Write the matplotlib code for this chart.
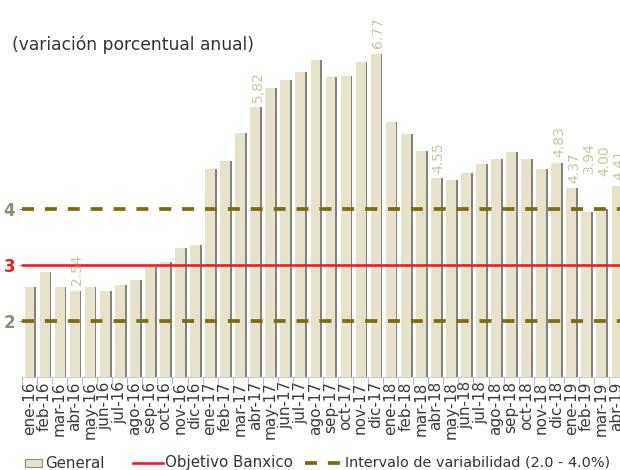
import matplotlib
matplotlib.use("Agg")
import matplotlib.pyplot as plt
from matplotlib.lines import Line2D
from matplotlib.patches import Rectangle
import numpy as np

months = ["ene", "feb", "mar", "abr", "may", "jun", "jul", "ago", "sep", "oct", "nov", "dic"]
years = ["16", "17", "18", "19"]
categories = [f"{m}-{y}" for y in years for m in months][:40]

general = [2.61, 2.87, 2.60, 2.54, 2.60, 2.54, 2.65, 2.73, 2.97, 3.06, 3.31, 3.36,
           4.72, 4.86, 5.35, 5.82, 6.16, 6.31, 6.44, 6.66, 6.35, 6.37, 6.63, 6.77,
           5.55, 5.34, 5.04, 4.55, 4.51, 4.65, 4.81, 4.90, 5.02, 4.90, 4.72, 4.83,
           4.37, 3.94, 4.00, 4.41]

label_idx = [3, 15, 23, 27, 35, 36, 37, 38, 39]
label_txt = ["2.54", "5,82", "6.77", "4.55", "4.83", "4.37", "3.94", "4.00", "4.41"]

objetivo = 3.0
intervalo = [2.0, 4.0]
yticks = [2, 3, 4]

BAR = "#E6E2CC"
SHADOW = "#85847A"
RED = "#EE1C25"
OLIVE = "#7D6B12"
LBL = "#C9C4A2"
TICKC = "#8E8C72"

W, H = 620, 470
fig = plt.figure(figsize=(6.2, 4.7), dpi=100)
ax = fig.add_axes([22 / W, 93 / H, 602 / W, 377 / H])

x = np.arange(len(categories))
ax.bar(x + 0.12, general, width=0.66, color=SHADOW, zorder=2, linewidth=0)
ax.bar(x, general, width=0.66, color=BAR, zorder=3, linewidth=0)

ax.axhline(objetivo, color=RED, lw=1.9, zorder=5)
for v in intervalo:
    ax.axhline(v, color=OLIVE, lw=2.7, zorder=5, dashes=(3.2, 2.9))

extra = {37: 24, 38: 20}
for i, t in zip(label_idx, label_txt):
    ax.annotate(t, (x[i], general[i]), xytext=(2, 4 + extra.get(i, 0)),
                textcoords="offset points", rotation=90, ha="center", va="bottom",
                fontsize=10, color=LBL, zorder=6)

ax.set_xlim(-0.5, len(categories) - 0.5)
ax.set_ylim(1.0, 1.0 + 377 / 56)
ax.set_xticks(x)
ax.set_xticklabels(categories, rotation=90, fontsize=11, color="#3A3A3A")
ax.set_xticks(np.arange(-0.5, len(categories), 1), minor=True)
ax.tick_params(axis="x", which="major", length=0, pad=3)
ax.tick_params(axis="x", which="minor", length=5, color="#BBBBBB", width=0.8)

ax.set_yticks(yticks)
ax.set_yticklabels([str(v) for v in yticks], fontsize=12, fontweight="bold")
ax.tick_params(axis="y", length=2, color=TICKC, pad=3)
for lab, v in zip(ax.get_yticklabels(), yticks):
    lab.set_color(RED if v == 3 else TICKC)

for s in ["top", "right", "left"]:
    ax.spines[s].set_visible(False)
ax.spines["bottom"].set_color("#CCCCCC")
ax.spines["bottom"].set_linewidth(0.8)

fig.text(12 / W, 1 - 45 / H, "(variación porcentual anual)", fontsize=12.3,
         color="#333333", va="center", ha="left")

# legend (manual, figure pixel positions)
ly = 1 - 463 / H
fig.patches.append(Rectangle((25 / W, ly - 4 / H), 17 / W, 8 / H, transform=fig.transFigure,
                             facecolor=BAR, edgecolor="#8E8C80", linewidth=0.8))
fig.text(45 / W, ly, "General", fontsize=10.8, color="#333333", va="center", ha="left")
fig.lines.append(Line2D([133 / W, 163 / W], [ly, ly], transform=fig.transFigure,
                        color=RED, lw=1.9))
fig.text(165 / W, ly, "Objetivo Banxico", fontsize=10.8, color="#333333", va="center", ha="left")
fig.lines.append(Line2D([305 / W, 342 / W], [ly, ly], transform=fig.transFigure,
                        color=OLIVE, lw=2.7, dashes=(3.2, 2.9)))
fig.text(345 / W, ly, "Intervalo de variabilidad (2.0 - 4.0%)", fontsize=10.4,
         color="#333333", va="center", ha="left")

fig.savefig("out.png", dpi=100)
